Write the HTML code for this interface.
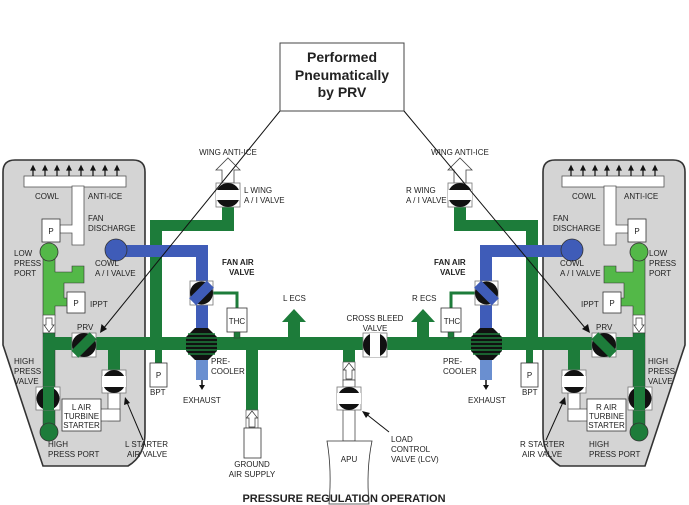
<!DOCTYPE html>
<html><head><meta charset="utf-8"><style>
html,body{margin:0;padding:0;background:#fff;}
svg{display:block;}
text{font-family:"Liberation Sans",Arial,sans-serif;font-size:8px;fill:#222;}
.b{font-weight:bold;}
</style></head><body>
<svg width="689" height="505" viewBox="0 0 689 505" xmlns="http://www.w3.org/2000/svg">
<defs>
<g id="side">
  <path d="M15,160 Q3,160 3,172 L3,345 L43,466 L128,466 Q145,456 145,433 L145,172 Q145,160 133,160 Z" fill="#d4d4d4" stroke="#333" stroke-width="1.6"/>
  <rect x="24" y="176" width="102" height="11" fill="#fff" stroke="#555" stroke-width="0.8"/>
  <g stroke="#111" stroke-width="1.2" fill="#111">
    <line x1="33" y1="176" x2="33" y2="169"/><polygon points="31,170 35,170 33,166"/>
    <line x1="45" y1="176" x2="45" y2="169"/><polygon points="43,170 47,170 45,166"/>
    <line x1="57" y1="176" x2="57" y2="169"/><polygon points="55,170 59,170 57,166"/>
    <line x1="69" y1="176" x2="69" y2="169"/><polygon points="67,170 71,170 69,166"/>
    <line x1="81" y1="176" x2="81" y2="169"/><polygon points="79,170 83,170 81,166"/>
    <line x1="93" y1="176" x2="93" y2="169"/><polygon points="91,170 95,170 93,166"/>
    <line x1="105" y1="176" x2="105" y2="169"/><polygon points="103,170 107,170 105,166"/>
    <line x1="117" y1="176" x2="117" y2="169"/><polygon points="115,170 119,170 117,166"/>
  </g>
  <path d="M72,186 L84,186 L84,245 L72,245 L72,233 L60,233 L60,225 L72,225 Z" fill="#fff" stroke="#555" stroke-width="0.8"/>
  <rect x="42" y="219" width="18" height="23" fill="#fff" stroke="#333" stroke-width="0.8"/>
  <path d="M43,252 L55,252 L55,272 L72,272 L72,266 L84,266 L84,283 L64,283 L64,298 L68,298 L68,306 L55,306 L55,316 L43,316 Z" fill="#53b848" stroke="#333" stroke-width="0.6"/>
  <circle cx="49" cy="252" r="9" fill="#53b848" stroke="#333" stroke-width="0.8"/>
  <rect x="67" y="292" width="18" height="21" fill="#fff" stroke="#333" stroke-width="0.8"/>
  <polygon points="43,315 55,315 55,333 43,333" fill="#fff" stroke="#555" stroke-width="0.7"/>
  <polygon points="46,318 52,318 52,325 54,325 49,332 44,325 46,325" fill="#fff" stroke="#333" stroke-width="0.7"/>
  <rect x="43" y="333" width="12" height="100" fill="#1d7c3a" stroke="#333" stroke-width="0.5"/>
  <rect x="43" y="337" width="302" height="13" fill="#1d7c3a"/>
  <rect x="108" y="349" width="12" height="22" fill="#1d7c3a"/>
  <rect x="150" y="220" width="12" height="118" fill="#1d7c3a"/>
  <rect x="150" y="220" width="84" height="11" fill="#1d7c3a"/>
  <rect x="222" y="205" width="12" height="26" fill="#1d7c3a"/>
  <rect x="155" y="349" width="7" height="15" fill="#1d7c3a"/>
  <circle cx="49" cy="432" r="9" fill="#1d7c3a" stroke="#333" stroke-width="0.8"/>
  <rect x="72" y="333" width="24" height="24" fill="#fff" stroke="#777" stroke-width="0.8"/>
  <circle cx="84" cy="345" r="12" fill="#111"/>
  <rect x="71" y="340" width="26" height="10" transform="rotate(-45 84 345)" fill="#1d7c3a"/>
  <rect x="108" y="392" width="12" height="29" fill="#fff" stroke="#555" stroke-width="0.8"/>
  <rect x="100" y="409" width="20" height="12" fill="#fff" stroke="#555" stroke-width="0.8"/>
  <rect x="109" y="410" width="10" height="10" fill="#fff"/>
  <rect x="102" y="370" width="24" height="23" fill="#fff" stroke="#777" stroke-width="0.8"/>
  <circle cx="114" cy="381.5" r="11.5" fill="#111"/>
  <rect x="102" y="376" width="24" height="11" fill="#fff"/>
  <rect x="62" y="399" width="39" height="32" fill="#fff" stroke="#333" stroke-width="0.8"/>
  <rect x="36" y="387" width="24" height="23" fill="#fff" stroke="#777" stroke-width="0.8"/>
  <circle cx="48" cy="398.5" r="11.5" fill="#111"/>
  <rect x="43" y="387" width="11" height="23" fill="#1d7c3a"/>
  <polygon points="222,183 222,170 216,170 228,158 240,170 234,170 234,183" fill="#fff" stroke="#444" stroke-width="0.8"/>
  <rect x="216" y="183" width="24" height="24" fill="#fff" stroke="#777" stroke-width="0.8"/>
  <circle cx="228" cy="195" r="12" fill="#111"/>
  <rect x="216" y="190" width="24" height="10" fill="#fff"/>
  <rect x="116" y="245" width="92" height="12" fill="#3f5cb8"/>
  <rect x="196" y="245" width="12" height="85" fill="#3f5cb8"/>
  <circle cx="116" cy="250" r="11" fill="#3f5cb8" stroke="#333" stroke-width="0.8"/>
  <rect x="196" y="358" width="12" height="22" fill="#6a8fd0"/>
  <line x1="202" y1="380" x2="202" y2="386" stroke="#111" stroke-width="1.5"/>
  <polygon points="199,385 205,385 202,390" fill="#111"/>
  <path d="M213,293 L237,293 L237,309" fill="none" stroke="#1d7c3a" stroke-width="3"/>
  <rect x="190" y="281" width="23" height="24" fill="#fff" stroke="#777" stroke-width="0.8"/>
  <circle cx="201.5" cy="293" r="11.5" fill="#111"/>
  <rect x="189" y="288" width="25" height="10" transform="rotate(-45 201.5 293)" fill="#3f5cb8"/>
  <rect x="227" y="308" width="20" height="24" fill="#fff" stroke="#333" stroke-width="0.8"/>
  <rect x="234" y="332" width="6" height="6" fill="#1d7c3a" stroke="#333" stroke-width="0.5"/>
  <polygon points="195,328 208,328 217,337 217,351 208,360 195,360 186,351 186,337" fill="#111"/>
  <g stroke="#1d7c3a" stroke-width="1.6">
    <line x1="188" y1="334" x2="215" y2="334"/><line x1="186" y1="338" x2="217" y2="338"/>
    <line x1="186" y1="342" x2="217" y2="342"/><line x1="186" y1="346" x2="217" y2="346"/>
    <line x1="186" y1="350" x2="217" y2="350"/><line x1="188" y1="354" x2="215" y2="354"/>
  </g>
  <rect x="150" y="363" width="17" height="24" fill="#fff" stroke="#333" stroke-width="0.8"/>
</g>
</defs>
<use href="#side"/>
<use href="#side" transform="translate(688,0) scale(-1,1)"/>

<polygon points="288,338 288,322 282,322 294,309 306,322 300,322 300,338" fill="#1d7c3a"/>
<polygon points="417,338 417,322 411,322 423,309 435,322 429,322 429,338" fill="#1d7c3a"/>
<rect x="363" y="333" width="24" height="24" fill="#fff" stroke="#777" stroke-width="0.8"/>
<circle cx="375" cy="345" r="12" fill="#111"/>
<rect x="370" y="333" width="10" height="24" fill="#fff"/>
<rect x="246" y="349" width="12" height="62" fill="#1d7c3a"/>
<rect x="246" y="410" width="12" height="18" fill="#fff" stroke="#555" stroke-width="0.7"/>
<polygon points="249,427 249,418 246.5,418 252,411 257.5,418 255,418 255,427" fill="#fff" stroke="#333" stroke-width="0.7"/>
<rect x="244" y="428" width="17" height="30" fill="#fff" stroke="#333" stroke-width="0.8"/>
<rect x="343" y="349" width="12" height="14" fill="#1d7c3a"/>
<rect x="343" y="362" width="12" height="18" fill="#fff" stroke="#555" stroke-width="0.7"/>
<polygon points="346,379 346,370 343.5,370 349,363 354.5,370 352,370 352,379" fill="#fff" stroke="#333" stroke-width="0.7"/>
<rect x="343" y="380" width="12" height="7" fill="#fff" stroke="#333" stroke-width="0.7"/>
<rect x="343" y="410" width="12" height="31" fill="#fff" stroke="#333" stroke-width="0.7"/>
<rect x="337" y="387" width="24" height="23" fill="#fff" stroke="#777" stroke-width="0.8"/>
<circle cx="349" cy="398.5" r="11.5" fill="#111"/>
<rect x="337" y="393" width="24" height="11" fill="#fff"/>
<path d="M327,441 L372,441 Q366,470 369,504 L329,504 Q332,470 327,441 Z" fill="#fff" stroke="#333" stroke-width="0.8"/>

<rect x="280" y="43" width="124" height="68" fill="#fff" stroke="#444" stroke-width="1"/>
<text x="342" y="62" text-anchor="middle" class="b" style="font-size:14px">Performed</text>
<text x="342" y="80" text-anchor="middle" class="b" style="font-size:14px">Pneumatically</text>
<text x="342" y="97" text-anchor="middle" class="b" style="font-size:14px">by PRV</text>
<g stroke="#111" stroke-width="1">
<line x1="280" y1="111" x2="103" y2="329"/>
<line x1="404" y1="111" x2="586" y2="329"/>
<line x1="143" y1="440" x2="126" y2="400"/>
<line x1="546" y1="440" x2="564" y2="400"/>
<line x1="389" y1="432" x2="365" y2="413"/>
</g>
<g fill="#111">
<polygon points="100,333 101.5,324 107,329"/>
<polygon points="590,333 582,329 588,324"/>
<polygon points="125,397 124,405 130,403"/>
<polygon points="565,397 559,403 566,405"/>
<polygon points="362,411 370,413 366,418"/>
</g>

<text x="228" y="155" text-anchor="middle">WING ANTI-ICE</text>
<text x="460" y="155" text-anchor="middle">WING ANTI-ICE</text>
<text x="35" y="199">COWL</text><text x="88" y="199">ANTI-ICE</text>
<text x="572" y="199">COWL</text><text x="624" y="199">ANTI-ICE</text>
<text x="88" y="221">FAN</text><text x="88" y="231">DISCHARGE</text>
<text x="553" y="221">FAN</text><text x="553" y="231">DISCHARGE</text>
<text x="51" y="234" text-anchor="middle">P</text><text x="637" y="234" text-anchor="middle">P</text>
<text x="14" y="256">LOW</text><text x="14" y="266">PRESS</text><text x="14" y="276">PORT</text>
<text x="649" y="256">LOW</text><text x="649" y="266">PRESS</text><text x="649" y="276">PORT</text>
<text x="95" y="266">COWL</text><text x="95" y="276">A / I VALVE</text>
<text x="560" y="266">COWL</text><text x="560" y="276">A / I VALVE</text>
<text x="76" y="306" text-anchor="middle">P</text><text x="612" y="306" text-anchor="middle">P</text>
<text x="90" y="307">IPPT</text><text x="581" y="307">IPPT</text>
<text x="77" y="330">PRV</text><text x="596" y="330">PRV</text>
<text x="14" y="364">HIGH</text><text x="14" y="374">PRESS</text><text x="14" y="384">VALVE</text>
<text x="648" y="364">HIGH</text><text x="648" y="374">PRESS</text><text x="648" y="384">VALVE</text>
<text x="81.5" y="410" text-anchor="middle">L AIR</text><text x="81.5" y="419" text-anchor="middle">TURBINE</text><text x="81.5" y="428" text-anchor="middle">STARTER</text>
<text x="606.5" y="410" text-anchor="middle">R AIR</text><text x="606.5" y="419" text-anchor="middle">TURBINE</text><text x="606.5" y="428" text-anchor="middle">STARTER</text>
<text x="48" y="447">HIGH</text><text x="48" y="457">PRESS PORT</text>
<text x="589" y="447">HIGH</text><text x="589" y="457">PRESS PORT</text>
<text x="125" y="447">L STARTER</text><text x="127" y="457">AIR VALVE</text>
<text x="520" y="447">R STARTER</text><text x="522" y="457">AIR VALVE</text>
<text x="244" y="193">L WING</text><text x="244" y="203">A / I VALVE</text>
<text x="406" y="193">R WING</text><text x="406" y="203">A / I VALVE</text>
<text x="222" y="265" class="b">FAN AIR</text><text x="229" y="275" class="b">VALVE</text>
<text x="434" y="265" class="b">FAN AIR</text><text x="440" y="275" class="b">VALVE</text>
<text x="283" y="301">L ECS</text><text x="412" y="301">R ECS</text>
<text x="375" y="321" text-anchor="middle">CROSS BLEED</text><text x="375" y="331" text-anchor="middle">VALVE</text>
<text x="237" y="324" text-anchor="middle">THC</text><text x="452" y="324" text-anchor="middle">THC</text>
<text x="211" y="364">PRE-</text><text x="211" y="374">COOLER</text>
<text x="443" y="364">PRE-</text><text x="443" y="374">COOLER</text>
<text x="183" y="403">EXHAUST</text><text x="468" y="403">EXHAUST</text>
<text x="158.5" y="378" text-anchor="middle">P</text><text x="529.5" y="378" text-anchor="middle">P</text>
<text x="150" y="395">BPT</text><text x="522" y="395">BPT</text>
<text x="252" y="467" text-anchor="middle">GROUND</text><text x="252" y="477" text-anchor="middle">AIR SUPPLY</text>
<text x="391" y="442">LOAD</text><text x="391" y="452">CONTROL</text><text x="391" y="462">VALVE (LCV)</text>
<text x="349" y="462" text-anchor="middle">APU</text>
<text x="344" y="502" text-anchor="middle" class="b" style="font-size:11px">PRESSURE REGULATION OPERATION</text>
</svg>
</body></html>
